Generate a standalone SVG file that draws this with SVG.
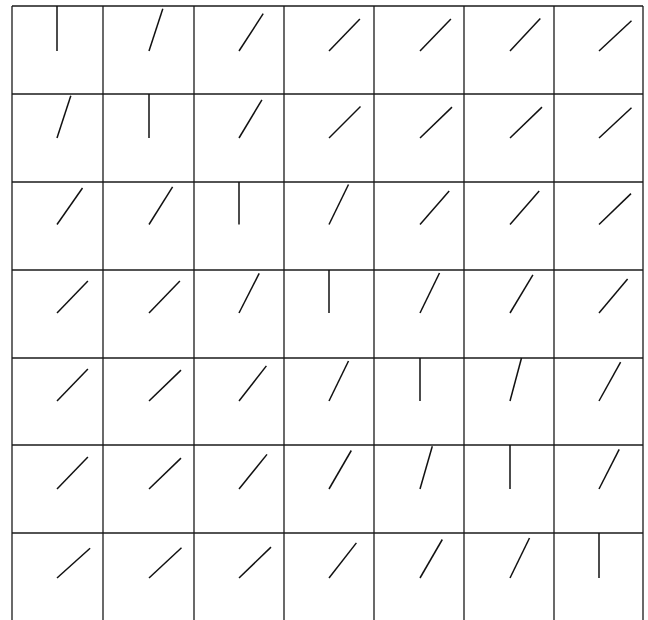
<svg xmlns="http://www.w3.org/2000/svg" width="648" height="620" viewBox="0 0 648 620">
<style>
.g{stroke:#1a1a1a;stroke-width:1.3;fill:none}
.s{stroke:#111;stroke-width:1.5;fill:none;stroke-linecap:butt}
</style>
<rect x="0" y="0" width="648" height="620" fill="#fff"/>
<g id="grid" class="g">
<line x1="12" y1="6" x2="12" y2="620"/>
<line x1="103" y1="6" x2="103" y2="620"/>
<line x1="194" y1="6" x2="194" y2="620"/>
<line x1="284" y1="6" x2="284" y2="620"/>
<line x1="374" y1="6" x2="374" y2="620"/>
<line x1="464" y1="6" x2="464" y2="620"/>
<line x1="554" y1="6" x2="554" y2="620"/>
<line x1="643" y1="6" x2="643" y2="620"/>
<line x1="12" y1="6" x2="643" y2="6"/>
<line x1="12" y1="94" x2="643" y2="94"/>
<line x1="12" y1="182" x2="643" y2="182"/>
<line x1="12" y1="270" x2="643" y2="270"/>
<line x1="12" y1="358" x2="643" y2="358"/>
<line x1="12" y1="445" x2="643" y2="445"/>
<line x1="12" y1="533" x2="643" y2="533"/>
</g>
<g id="segments" class="s">
<g id="row0">
<line x1="57" y1="51" x2="57" y2="6"/>
<line x1="149" y1="51" x2="162.8" y2="8.7"/>
<line x1="239" y1="51" x2="263.2" y2="13.7"/>
<line x1="329" y1="51" x2="359.9" y2="19"/>
<line x1="420" y1="51" x2="450.9" y2="19"/>
<line x1="510" y1="51" x2="540.3" y2="18.5"/>
<line x1="599" y1="51" x2="631.5" y2="20.7"/>
</g>
<g id="row1">
<line x1="57" y1="138" x2="70.8" y2="95.7"/>
<line x1="149" y1="138" x2="149" y2="94"/>
<line x1="239" y1="138" x2="261.9" y2="99.9"/>
<line x1="329" y1="138" x2="360.5" y2="106.5"/>
<line x1="420" y1="138" x2="452" y2="107.1"/>
<line x1="510" y1="138" x2="542" y2="107.1"/>
<line x1="599" y1="138" x2="631.5" y2="107.7"/>
</g>
<g id="row2">
<line x1="57" y1="224.5" x2="82.5" y2="188"/>
<line x1="149" y1="224.5" x2="172.6" y2="186.8"/>
<line x1="239" y1="224.5" x2="239" y2="182"/>
<line x1="329" y1="224.5" x2="348.5" y2="184.5"/>
<line x1="420" y1="224.5" x2="449.2" y2="190.9"/>
<line x1="510" y1="224.5" x2="539.2" y2="190.9"/>
<line x1="599" y1="224.5" x2="631" y2="193.6"/>
</g>
<g id="row3">
<line x1="57" y1="313" x2="87.9" y2="281"/>
<line x1="149" y1="313" x2="179.9" y2="281"/>
<line x1="239" y1="313" x2="259.2" y2="273.4"/>
<line x1="329" y1="313" x2="329" y2="270"/>
<line x1="420" y1="313" x2="439.5" y2="273"/>
<line x1="510" y1="313" x2="532.9" y2="274.9"/>
<line x1="599" y1="313" x2="627.6" y2="278.9"/>
</g>
<g id="row4">
<line x1="57" y1="401" x2="87.9" y2="369"/>
<line x1="149" y1="401" x2="181" y2="370.1"/>
<line x1="239" y1="401" x2="266.4" y2="365.9"/>
<line x1="329" y1="401" x2="348.5" y2="361"/>
<line x1="420" y1="401" x2="420" y2="358"/>
<line x1="510" y1="401" x2="521.5" y2="358"/>
<line x1="599" y1="401" x2="620.6" y2="362.1"/>
</g>
<g id="row5">
<line x1="57" y1="489" x2="87.9" y2="457"/>
<line x1="149" y1="489" x2="181" y2="458.1"/>
<line x1="239" y1="489" x2="267" y2="454.4"/>
<line x1="329" y1="489" x2="351.3" y2="450.5"/>
<line x1="420" y1="489" x2="432.3" y2="446.2"/>
<line x1="510" y1="489" x2="510" y2="445"/>
<line x1="599" y1="489" x2="619.2" y2="449.4"/>
</g>
<g id="row6">
<line x1="57" y1="578" x2="90.1" y2="548.2"/>
<line x1="149" y1="578" x2="181.5" y2="547.7"/>
<line x1="239" y1="578" x2="271" y2="547.1"/>
<line x1="329" y1="578" x2="356.4" y2="542.9"/>
<line x1="420" y1="578" x2="442.3" y2="539.5"/>
<line x1="510" y1="578" x2="529.5" y2="538"/>
<line x1="599" y1="578" x2="599" y2="533"/>
</g>
</g>
</svg>
